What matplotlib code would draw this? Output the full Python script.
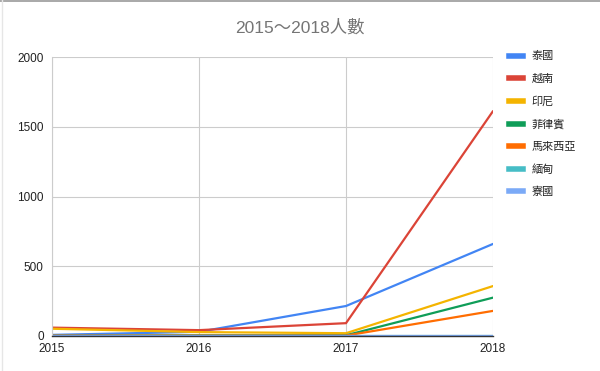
import matplotlib
matplotlib.use("Agg")
import matplotlib.pyplot as plt
from matplotlib.lines import Line2D

years = [2015, 2016, 2017, 2018]
series_names = ["泰國", "越南", "印尼", "菲律賓", "馬來西亞", "緬甸", "寮國"]
thailand = [8, 30, 215, 660]
vietnam = [60, 42, 92, 1612]
indonesia = [52, 28, 20, 358]
philippines = [2, 5, 5, 275]
malaysia = [3, 3, 3, 180]
myanmar = [0, 0, 0, 0]
laos = [0, 0, 0, 0]
values = [thailand, vietnam, indonesia, philippines, malaysia, myanmar, laos]
colors = ["#4285F4", "#DB4437", "#F4B400", "#0F9D58", "#FF6D01", "#46BDC6", "#7BAAF7"]
yticks = [0, 500, 1000, 1500, 2000]

plt.rcParams['font.family'] = ['Noto Sans CJK TC', 'DejaVu Sans']

fig = plt.figure(figsize=(6, 3.71), dpi=100)
ax = fig.add_axes([52/600, 35/371, (493-52)/600, (336-57)/371])

for name, vals, c in zip(series_names, values, colors):
    ax.plot(years, vals, color=c, lw=1.6, label=name, solid_capstyle='round')

ax.set_xlim(2015, 2018)
ax.set_ylim(0, 2000)
ax.set_xticks(years)
ax.set_yticks(yticks)
ax.set_xticklabels([str(y) for y in years], family=['Liberation Sans', 'DejaVu Sans'])
ax.set_yticklabels([str(y) for y in yticks], family=['Liberation Sans', 'DejaVu Sans'])
ax.tick_params(axis='both', length=0, labelsize=8.5, colors='#222222')
ax.tick_params(axis='x', pad=5)
ax.tick_params(axis='y', pad=6)
for lbl in ax.get_yticklabels():
    lbl.set_va('center_baseline')
ax.grid(True, color='#cccccc', lw=0.8)
ax.set_axisbelow(True)
for s in ['top', 'right']:
    ax.spines[s].set_visible(False)
ax.spines['left'].set_color('#cccccc')
ax.spines['bottom'].set_color('#333333')
ax.spines['bottom'].set_linewidth(1.0)

fig.text(300/600, 1 - 27/371, "2015～2018人數", ha='center', va='center',
         fontsize=12.5, color='#757575', family=['Liberation Sans', 'Noto Sans CJK TC'])

handles = [Line2D([0], [0], color=c, lw=4) for c in colors]
leg = fig.legend(handles, series_names, loc='upper left', bbox_to_anchor=(505/600, 1 - 47/371),
                 frameon=False, fontsize=8, handlelength=1.2, handletextpad=0.8,
                 labelspacing=1.1, borderaxespad=0)
for t in leg.get_texts():
    t.set_color('#222222')

# border lines
fig.add_artist(Line2D([0, 1], [1 - 0.5/371, 1 - 0.5/371], color='#999999', lw=1.2, transform=fig.transFigure))
fig.add_artist(Line2D([1.5/600, 1.5/600], [0, 1], color='#e6e6e6', lw=1.0, transform=fig.transFigure))

fig.savefig("out.png", dpi=100)
